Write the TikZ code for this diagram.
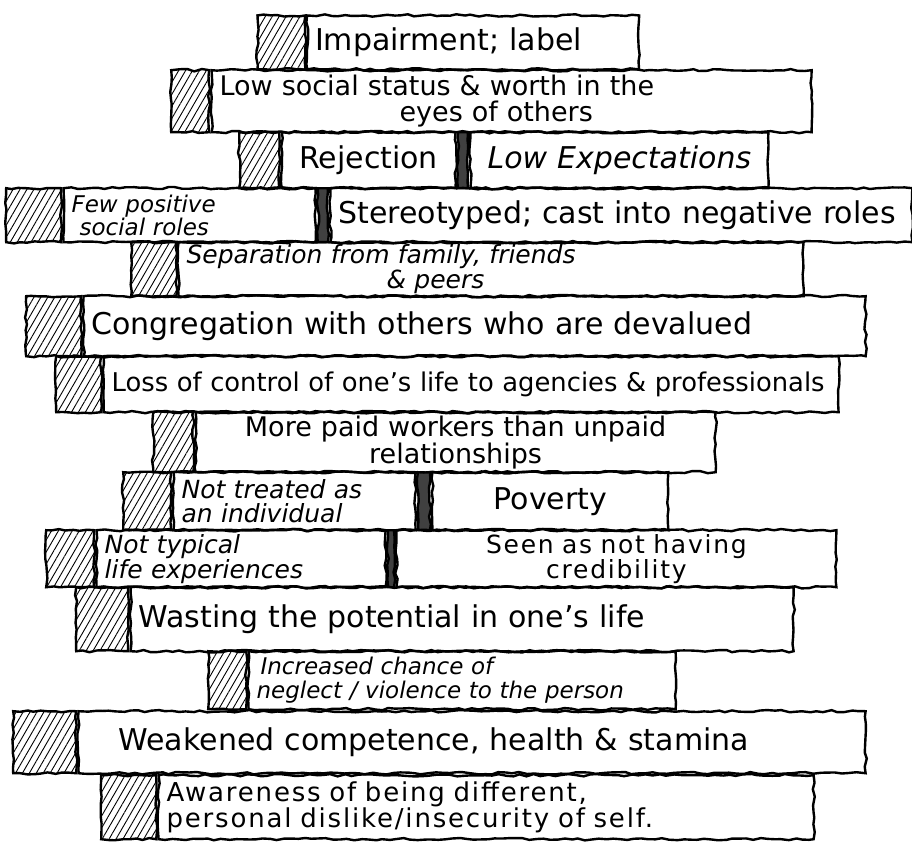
\documentclass[tikz,border=0pt]{standalone}
\usepackage{fontspec}
\setmainfont{DejaVu Sans}
\newfontfamily\spacedfont[LetterSpace=7, WordSpace=2.2]{DejaVu Sans}
\usetikzlibrary{positioning,patterns.meta,decorations.pathmorphing}

\newcommand\boardfont{\fontsize{30}{32}\selectfont}
\newcommand\twolinefont{\fontsize{25}{24}\selectfont}

\begin{document}
\begin{tikzpicture}[
  x=1pt, y=-1pt,
  rough/.style={decorate, decoration={random steps, segment length=7pt, amplitude=1.2pt}},
  board/.style={draw, rough, line width=2.4pt, inner xsep=8pt, inner ysep=0pt, align=left, font=\boardfont},
  twoline/.style={board, font=\twolinefont},
  hatch/.style={draw, rough, line width=2.4pt, anchor=north west, pattern={Lines[angle=60, distance=6pt, line width=0.9pt]}},
  divider/.style={draw, rough, line width=2.4pt, fill=black!75, inner sep=0pt}
]
  \pgfmathsetseed{7}
  \useasboundingbox (0,0) rectangle (912,848);

  % Impairment
  \node[hatch, minimum width=48pt, minimum height=54pt] (h1) at (257,15) {};
  \node[board, text width=316pt, minimum height=54pt, right=0pt of h1] (impair) {Impairment; label};

  % Status
  \node[hatch, minimum width=38pt, minimum height=62pt] (h2) at (170,69) {};
  \node[twoline, text width=584pt, minimum height=62pt, right=0pt of h2, font=\fontsize{27}{26}\selectfont] (status) {Low social status \& worth in the\\\hspace*{180pt}eyes of others};

  % Rejection, expectations
  \node[hatch, minimum width=40pt, minimum height=56pt] (h3) at (238,131) {};
  \node[board, text width=158pt, minimum height=56pt, right=0pt of h3, align=center] (reject) {Rejection};
  \node[divider, minimum width=10pt, minimum height=56pt, right=0pt of reject] (d3) {};
  \node[board, text width=282pt, minimum height=56pt, right=0pt of d3, align=center, font=\boardfont\itshape] (expect) {Low Expectations};

  % Roles
  \node[hatch, minimum width=55pt, minimum height=54pt] (h4) at (5,187) {};
  \node[twoline, text width=236pt, minimum height=54pt, right=0pt of h4, font=\fontsize{23}{21}\selectfont\itshape] (roles) {Few positive\\\hspace*{8pt}social roles};
  \node[divider, minimum width=10pt, minimum height=54pt, right=0pt of roles] (d4) {};
  \node[board, text width=566pt, minimum height=54pt, right=0pt of d4] (stereo) {Stereotyped; cast into negative roles};

  % Separation
  \node[hatch, minimum width=45pt, minimum height=54pt] (h5) at (130,241) {};
  \node[twoline, text width=609pt, minimum height=54pt, right=0pt of h5, font=\fontsize{25}{22}\selectfont\itshape] (separ) {Separation from family, friends\\\hspace*{200pt}\& peers};

  % Congregation
  \node[hatch, minimum width=55pt, minimum height=60pt] (h6) at (25,295) {};
  \node[board, text width=766pt, minimum height=60pt, right=0pt of h6] (congr) {Congregation with others who are devalued};

  % Control
  \node[hatch, minimum width=45pt, minimum height=56pt] (h7) at (55,355) {};
  \node[board, text width=719pt, minimum height=56pt, right=0pt of h7, font=\fontsize{25.8}{27}\selectfont] (control) {Loss of control of one's life to agencies \& professionals};

  % Paid workers
  \node[hatch, minimum width=40pt, minimum height=60pt] (h8) at (152,411) {};
  \node[twoline, text width=504pt, minimum height=60pt, right=0pt of h8, align=center, font=\fontsize{27}{25}\selectfont] (paid) {More paid workers than unpaid\\relationships};

  % Individual, poverty
  \node[hatch, minimum width=48pt, minimum height=58pt] (h9) at (122,471) {};
  \node[twoline, text width=226pt, minimum height=58pt, right=0pt of h9, font=\twolinefont\itshape] (indiv) {Not treated as\\an individual};
  \node[divider, minimum width=12pt, minimum height=58pt, right=0pt of indiv] (d9) {};
  \node[board, text width=220pt, minimum height=58pt, right=0pt of d9, align=center] (poverty) {Poverty};

  % Experiences, credibility
  \node[hatch, minimum width=48pt, minimum height=57pt] (h10) at (45,529) {};
  \node[twoline, text width=273pt, minimum height=57pt, right=0pt of h10, font=\twolinefont\itshape] (typical) {Not typical\\life experiences};
  \node[divider, minimum width=6pt, minimum height=57pt, right=0pt of typical] (d10) {};
  \node[twoline, text width=424pt, minimum height=57pt, right=0pt of d10, align=center, font=\twolinefont\spacedfont] (credib) {Seen as not having\\credibility};

  % Potential
  \node[hatch, minimum width=52pt, minimum height=64pt] (h11) at (75,586) {};
  \node[board, text width=647pt, minimum height=64pt, right=0pt of h11] (waste) {Wasting the potential in one's life};

  % Neglect
  \node[hatch, minimum width=38pt, minimum height=58pt] (h12) at (207,650) {};
  \node[twoline, text width=411pt, minimum height=58pt, right=0pt of h12, font=\fontsize{23}{24}\selectfont\itshape] (neglect) {\hspace*{4pt}Increased chance of\\neglect / violence to the person};

  % Competence
  \node[hatch, minimum width=63pt, minimum height=62pt] (h13) at (12,710) {};
  \node[board, text width=771pt, minimum height=62pt, right=0pt of h13] (compet) {\hspace*{32pt}Weakened competence, health \& stamina};

  % Awareness
  \node[hatch, minimum width=55pt, minimum height=64pt] (h14) at (100,774) {};
  \node[twoline, text width=639pt, minimum height=64pt, right=0pt of h14, font=\fontsize{26}{26}\selectfont\spacedfont] (aware) {Awareness of being different,\\personal dislike/insecurity of self.};
\end{tikzpicture}
\end{document}
